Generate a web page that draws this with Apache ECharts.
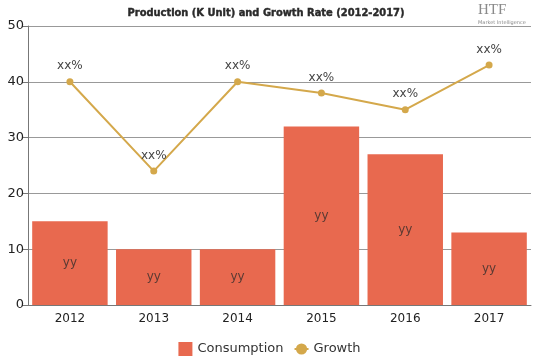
<!DOCTYPE html>
<html>
<head>
<meta charset="utf-8">
<script src="https://cdn.jsdelivr.net/npm/echarts@6/dist/echarts.min.js"></script>
<style>html,body{margin:0;padding:0;background:#fff;}#c{width:539px;height:359px;}</style>
</head>
<body>
<div id="c"></div>
<script>
var categories = ['2012', '2013', '2014', '2015', '2016', '2017'];
var consumption = [15, 10, 10, 32, 27, 13];
var growth = [40, 24, 40, 38, 35, 43];
var yTicks = [0, 10, 20, 30, 40, 50];

var chart = echarts.init(document.getElementById('c'), null, {renderer: 'canvas'});
chart.setOption({
  animation: false,
  title: {
    text: 'Production (K Unit) and Growth Rate (2012-2017)',
    left: 261, top: 3, textAlign: 'center',
    textStyle: {fontFamily: 'DejaVu Sans Condensed', fontWeight: 'bold', fontSize: 11, color: '#2a2a2a', textBorderColor: '#2a2a2a', textBorderWidth: 0.4}
  },
  graphic: [
    {type: 'text', left: 478, top: 3, style: {text: 'HTF', font: '15px "Liberation Serif"', fill: '#8a8a8a'}},
    {type: 'text', left: 478, top: 20, style: {text: 'Market Intelligence', font: '5px "DejaVu Sans"', fill: '#8a8a8a'}}
  ],
  legend: {
    bottom: -2, left: 'center',
    itemWidth: 14, itemHeight: 14, itemGap: 10,
    textStyle: {fontFamily: 'DejaVu Sans', fontSize: 13, color: '#333'},
    data: [{name: 'Consumption', icon: 'rect'}, {name: 'Growth'}]
  },
  grid: {left: 28, right: 8, top: 26, bottom: 54, containLabel: false},
  xAxis: {
    type: 'category', data: categories,
    axisLine: {lineStyle: {color: '#777'}},
    axisTick: {alignWithLabel: true, lineStyle: {color: '#777'}},
    axisLabel: {fontFamily: 'DejaVu Sans', fontSize: 12, color: '#222', margin: 8}
  },
  yAxis: {
    type: 'value', min: 0, max: 50, interval: 10,
    axisLine: {show: true, lineStyle: {color: '#777'}},
    axisTick: {show: true, length: 6, lineStyle: {color: '#777'}},
    axisLabel: {fontFamily: 'DejaVu Sans', fontSize: 13, color: '#222', margin: 4},
    splitLine: {lineStyle: {color: '#999'}}
  },
  series: [
    {
      name: 'Consumption', type: 'bar', data: consumption,
      barCategoryGap: '10%',
      itemStyle: {color: '#E8694F'},
      label: {show: true, position: 'inside', formatter: 'yy', fontFamily: 'DejaVu Sans', fontSize: 12, color: '#5a3a33'}
    },
    {
      name: 'Growth', type: 'line', data: growth,
      symbol: 'circle', symbolSize: 7,
      lineStyle: {color: '#D4A84B', width: 2},
      itemStyle: {color: '#D4A84B'},
      label: {show: true, position: 'top', distance: 6, formatter: 'xx%', fontFamily: 'DejaVu Sans', fontSize: 12, color: '#444'}
    }
  ]
});
</script>
</body>
</html>
